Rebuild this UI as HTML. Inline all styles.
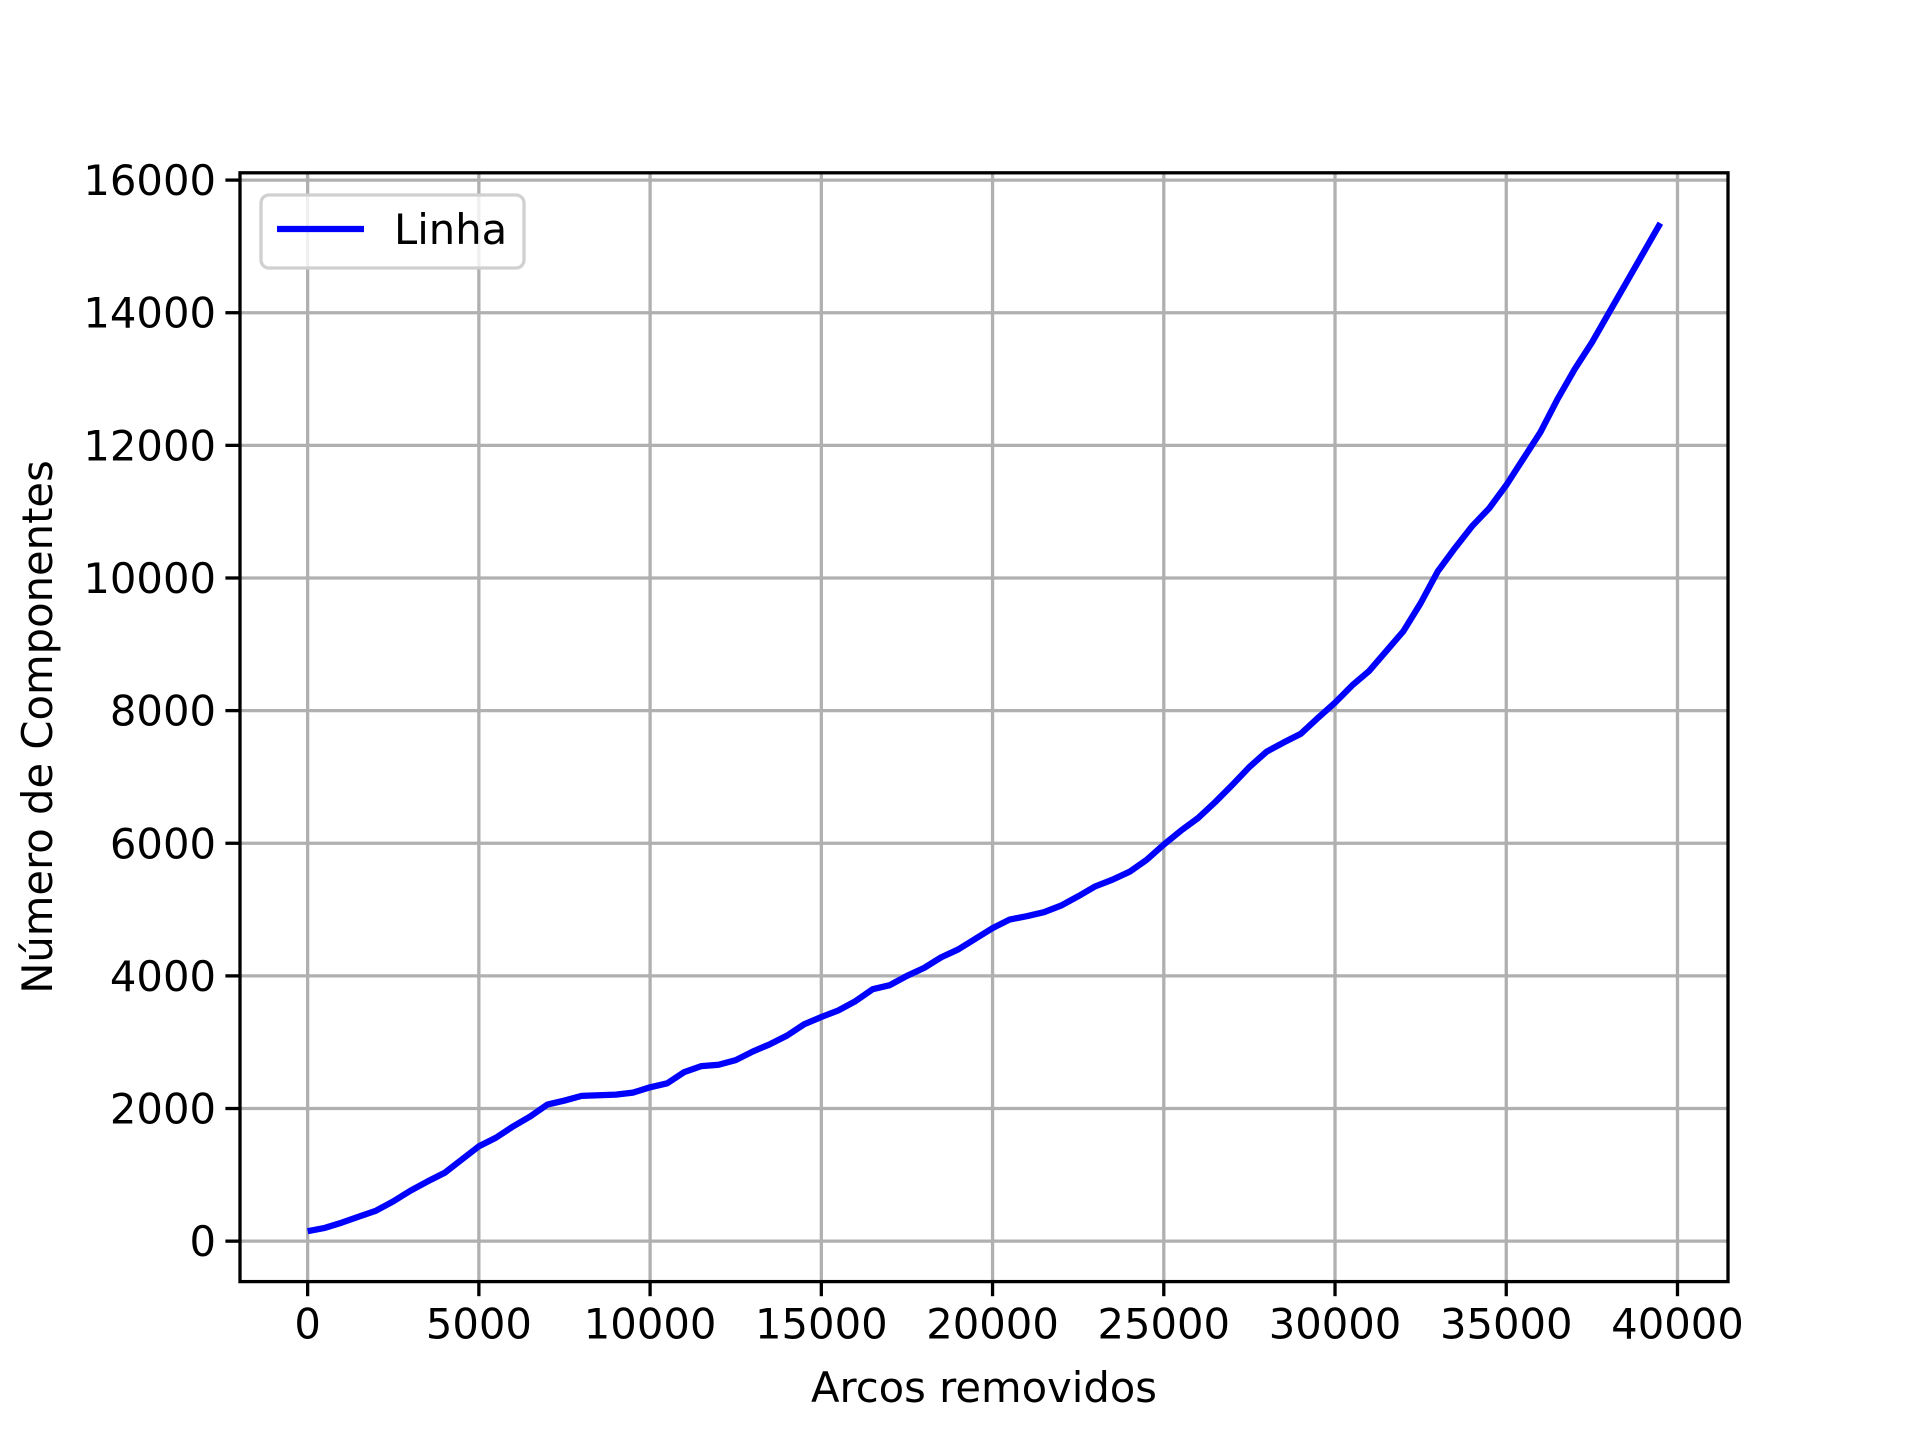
<!DOCTYPE html>
<html><head><meta charset="utf-8"><style>
html,body{margin:0;padding:0;background:#fff}
svg text{font-family:"DejaVu Sans","Liberation Sans",sans-serif;font-size:41.7px;fill:#000}
</style></head><body>
<svg id="chart" width="1920" height="1440" xmlns="http://www.w3.org/2000/svg">
<rect width="1920" height="1440" fill="#fff"/>
<g id="grid"></g>
<g id="series"></g>
<rect x="240" y="172.8" width="1488" height="1108.8" fill="none" stroke="#000" stroke-width="3.3"/>
<g id="ticks"></g>
<text x="984" y="1402" text-anchor="middle">Arcos removidos</text>
<text transform="translate(52,727) rotate(-90)" text-anchor="middle">Número de Componentes</text>
<g>
<rect x="261" y="195" width="263" height="73" rx="8" fill="#fff" fill-opacity="0.8" stroke="#d0d0d0" stroke-width="3.3"/>
<line x1="277" y1="229" x2="364" y2="229" stroke="#0000ff" stroke-width="6.25"/>
<text x="394" y="244">Linha</text>
</g>
</svg>
<script>
const xValues=[0,500,1000,1500,2000,2500,3000,3500,4000,4500,5000,5500,6000,6500,7000,7500,8000,8500,9000,9500,10000,10500,11000,11500,12000,12500,13000,13500,14000,14500,15000,15500,16000,16500,17000,17500,18000,18500,19000,19500,20000,20500,21000,21500,22000,22500,23000,23500,24000,24500,25000,25500,26000,26500,27000,27500,28000,28500,29000,29500,30000,30500,31000,31500,32000,32500,33000,33500,34000,34500,35000,35500,36000,36500,37000,37500,38000,38500,39000,39500];
const yValues=[150,200,280,370,460,600,760,900,1030,1230,1430,1560,1730,1880,2060,2120,2190,2200,2210,2240,2320,2380,2550,2640,2660,2730,2860,2970,3100,3270,3380,3480,3620,3800,3860,4000,4120,4280,4400,4560,4720,4850,4900,4960,5060,5200,5350,5450,5570,5750,5980,6190,6380,6620,6880,7150,7380,7520,7650,7890,8120,8380,8600,8900,9200,9620,10100,10450,10780,11050,11400,11800,12200,12700,13150,13550,14000,14450,14900,15350];
const xTicks=[0,5000,10000,15000,20000,25000,30000,35000,40000];
const yTicks=[0,2000,4000,6000,8000,10000,12000,14000,16000];
const L=240,R=1728,T=172.8,B=1281.6;
const xmin=-1975,xmax=41475,ymin=-610,ymax=16110;
const sx=v=>L+(v-xmin)/(xmax-xmin)*(R-L);
const sy=v=>B-(v-ymin)/(ymax-ymin)*(B-T);
const NS="http://www.w3.org/2000/svg";
const grid=document.getElementById('grid'),ticks=document.getElementById('ticks'),series=document.getElementById('series');
function mk(tag,attrs,parent){const e=document.createElementNS(NS,tag);for(const k in attrs)e.setAttribute(k,attrs[k]);parent.appendChild(e);return e;}
xTicks.forEach(v=>{const x=sx(v);
 const g=mk('line',{x1:x,x2:x,y1:T,y2:B,stroke:'#b0b0b0','stroke-width':3.3},grid);
 
 
 const t=mk('line',{x1:x,x2:x,y1:B,y2:B+14.6,stroke:'#000','stroke-width':3.3},ticks);
 
 
 const l=mk('text',{x:x,y:B+57,'text-anchor':'middle'},ticks);l.textContent=v;
 
 
});
yTicks.forEach(v=>{const y=sy(v);
 const g=mk('line',{x1:L,x2:R,y1:y,y2:y,stroke:'#b0b0b0','stroke-width':3.3},grid);
 
 
 const t=mk('line',{x1:L-14.6,x2:L,y1:y,y2:y,stroke:'#000','stroke-width':3.3},ticks);
 
 
 const l=mk('text',{x:L-24,y:y+15,'text-anchor':'end'},ticks);l.textContent=v;
 
 
});
const p=mk('polyline',{points:xValues.map((x,i)=>sx(x)+','+sy(yValues[i])).join(' '),fill:'none',stroke:'#0000ff','stroke-width':6.25,'stroke-linejoin':'round'},series);


</script>
</body></html>
